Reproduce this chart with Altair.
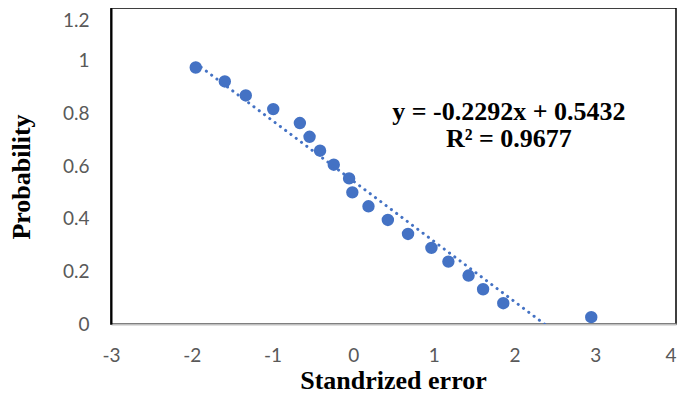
import altair as alt
import pandas as pd

# Values
std_error = [-1.95, -1.59, -1.33, -0.99, -0.66, -0.54, -0.41, -0.24, -0.05, -0.01,
             0.19, 0.43, 0.68, 0.97, 1.18, 1.43, 1.61, 1.86, 2.95]
probability = [0.974, 0.921, 0.868, 0.816, 0.763, 0.711, 0.658, 0.605, 0.553, 0.500,
               0.447, 0.395, 0.342, 0.289, 0.237, 0.184, 0.132, 0.079, 0.026]

slope = -0.2292
intercept = 0.5432
r_squared = 0.9677

x_ticks = [-3, -2, -1, 0, 1, 2, 3, 4]
y_ticks = [0, 0.2, 0.4, 0.6, 0.8, 1.0, 1.2]

eq_lines = [f"y = {slope}x + {intercept}", f"R² = {r_squared}"]
eq_pos = {"x": 1.93, "y": 0.773}

points = pd.DataFrame({"x": std_error, "y": probability})
tx = [min(std_error), max(std_error)]
trend = pd.DataFrame({"x": tx, "y": [slope * v + intercept for v in tx]})
label_df = pd.DataFrame([{"x": eq_pos["x"], "y": eq_pos["y"], "t": eq_lines}])

LABEL_FONT = "Lato"
TITLE_FONT = "Liberation Serif"

x_enc = alt.X("x:Q", scale=alt.Scale(domain=[-3, 4], nice=False, zero=False),
              axis=alt.Axis(values=x_ticks, title="Standrized error",
                            labelExpr="toString(datum.value)",
                            labelAlign={"condition": {"test": "datum.value >= 4", "value": "right"},
                                        "value": "center"},
                            grid=False, ticks=False, domainColor="#BFBFBF", domainWidth=2,
                            labelPadding=22, titleX=282, titleY=64,
                            titleBaseline="alphabetic", titleAlign="center"))
y_enc = alt.Y("y:Q", scale=alt.Scale(domain=[0, 1.2], nice=False),
              axis=alt.Axis(values=y_ticks, title="Probability",
                            labelExpr="toString(datum.value)",
                            labelBaseline={"condition": {"test": "datum.value >= 1.19", "value": "top"},
                                           "value": "middle"},
                            labelOffset={"condition": {"test": "datum.value >= 1.19", "value": 3},
                                         "value": 0},
                            grid=False, ticks=False, domainColor="black", domainWidth=2,
                            labelPadding=22, titleAngle=270, titleX=-82, titleY=168.5,
                            titleBaseline="alphabetic", titleAlign="center"))

pts = alt.Chart(points).mark_circle(size=154, color="#4472C4", opacity=1).encode(
    x=x_enc, y=y_enc)

line = alt.Chart(trend).mark_line(
    color="#4472C4", strokeWidth=3, strokeDash=[0.1, 6.5], strokeCap="round", clip=True
).encode(x="x:Q", y="y:Q")

txt = alt.Chart(label_df).mark_text(
    font=TITLE_FONT, fontSize=26, fontWeight="bold", color="black",
    align="center", baseline="alphabetic", lineHeight=27
).encode(x="x:Q", y="y:Q", text="t")

chart = alt.layer(pts, line, txt).properties(
    width=565, height=316,
    autosize=alt.AutoSizeParams(type="none"),
    padding={"left": 103, "top": 0, "right": 1, "bottom": 70},
).configure_view(
    stroke="black", strokeWidth=1.5
).configure_axis(
    labelFont=LABEL_FONT, labelFontSize=19, labelColor="#595959",
    titleFont=TITLE_FONT, titleFontSize=26, titleFontWeight="bold", titleColor="black",
)

chart.save("out.html", embed_options={"renderer": "svg", "actions": False})
